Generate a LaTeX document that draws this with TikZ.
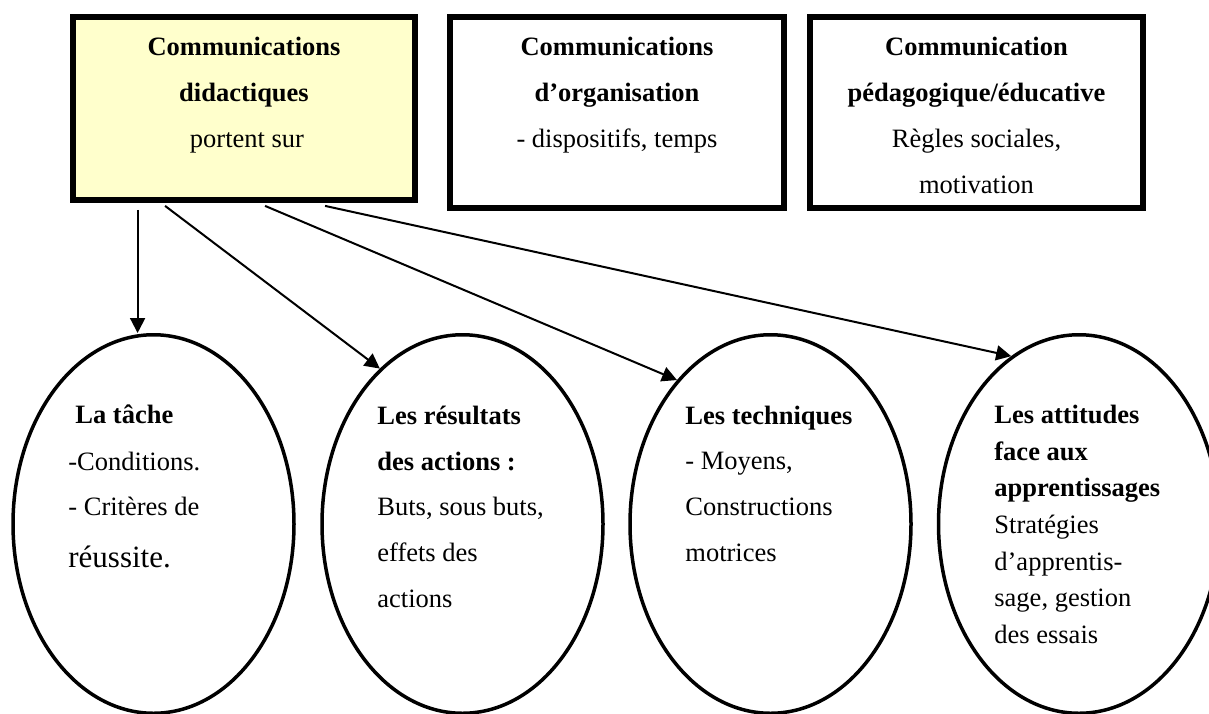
\documentclass[tikz,border=0pt]{standalone}
\usepackage{fontspec}
\setmainfont{Liberation Serif}
\usetikzlibrary{shapes.geometric,arrows.meta,calc}
\definecolor{boxyellow}{HTML}{FFFFCC}
\begin{document}
\begin{tikzpicture}[x=0.5pt,y=-0.5pt,
  frame/.style={draw, rectangle, line width=2.9pt, inner sep=0pt},
  oval/.style={draw, ellipse, line width=1.75pt, minimum width=140.5pt, minimum height=189.25pt, inner sep=0pt},
  txt/.style={anchor=base west, inner sep=0pt, font=\fontsize{13.25}{16}\selectfont},
  ctxt/.style={anchor=base, inner sep=0pt, font=\fontsize{13.25}{16}\selectfont},
  bigtxt/.style={anchor=base west, inner sep=0pt, font=\fontsize{15.5}{18}\selectfont},
  arr/.style={line width=1pt, -{Triangle[length=7.5pt,width=7.5pt]}}]
\useasboundingbox (0,0) rectangle (1209,713);
\clip (0,0) rectangle (1209,713);

% top boxes
\node[frame, fill=boxyellow, minimum width=171pt, minimum height=91.5pt] (box1) at (244,108.5) {};
\node[frame, minimum width=167pt, minimum height=95.5pt] (box2) at (617,112.5) {};
\node[frame, minimum width=166.5pt, minimum height=95.5pt] (box3) at (976.5,112.5) {};

\node[ctxt] (b1a) at (244,55) {\textbf{Communications}};
\node[ctxt] (b1b) at (244,101) {\textbf{didactiques}};
\node[ctxt] (b1c) at (247,147) {portent sur};

\node[ctxt] (b2a) at (617,55) {\textbf{Communications}};
\node[ctxt] (b2b) at (617,101) {\textbf{d’organisation}};
\node[ctxt] (b2c) at (617,147) {- dispositifs, temps};

\node[ctxt] (b3a) at (976.5,55) {\textbf{Communication}};
\node[ctxt] (b3b) at (976.5,101) {\textbf{pédagogique/éducative}};
\node[ctxt] (b3c) at (976.5,147) {Règles sociales,};
\node[ctxt] (b3d) at (976.5,193) {motivation};

% ellipses
\node[oval] (e1) at (153.5,524) {};
\node[oval] (e2) at (462.5,524) {};
\node[oval] (e3) at (770.5,524) {};
\node[oval] (e4) at (1079,524) {};

\node[txt] (e1a) at (75,423.5) {\textbf{La tâche}};
\node[txt] (e1b) at (68,470) {-Conditions.};
\node[txt] (e1c) at (68,515.5) {- Critères de};
\node[bigtxt] (e1d) at (68,567) {réussite.};

\node[txt] (e2a) at (377,424) {\textbf{Les résultats}};
\node[txt] (e2b) at (377,470) {\textbf{des actions :}};
\node[txt] (e2c) at (377,515.5) {Buts, sous buts,};
\node[txt] (e2d) at (377,561) {effets des};
\node[txt] (e2e) at (377,607) {actions};

\node[txt] (e3a) at (685,424) {\textbf{Les techniques}};
\node[txt] (e3b) at (685,469.5) {- Moyens,};
\node[txt] (e3c) at (685,515.5) {Constructions};
\node[txt] (e3d) at (685,561.5) {motrices};

\node[txt] (e4a) at (994,423) {\textbf{Les attitudes}};
\node[txt] (e4b) at (994,460) {\textbf{face aux}};
\node[txt] (e4c) at (994,496.7) {\textbf{apprentissages}};
\node[txt] (e4d) at (994,533) {Stratégies};
\node[txt] (e4e) at (994,570.5) {d’apprentis-};
\node[txt] (e4f) at (994,606.7) {sage, gestion};
\node[txt] (e4g) at (994,643) {des essais};

% connectors
\coordinate (s1) at ($(box1.south west)+(67.5,7)$);
\coordinate (s2) at ($(box1.south west)+(95,3)$);
\coordinate (s3) at ($(box1.south west)+(195,3)$);
\coordinate (s4) at ($(box1.south west)+(255,3)$);

\draw[arr] (s1) -- (s1 |- e1.north);
\draw[arr] (s2) -- (e2.118);
\draw[arr] (s3) -- (e3.123.4);
\draw[arr] (s4) -- (e4.112.7);
\end{tikzpicture}
\end{document}
